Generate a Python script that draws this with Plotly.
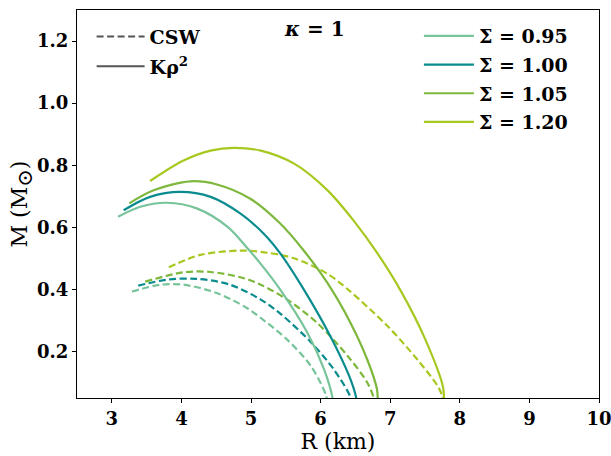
import plotly.graph_objects as go

# ---- data ----
sigma_labels = ["Σ = 0.95", "Σ = 1.00", "Σ = 1.05", "Σ = 1.20"]
colors = ["#78c49a", "#0a8c8e", "#7db83d", "#a6c81f"]

# K rho^2 (solid)
R_k_095 = [3.09, 3.41, 3.79, 4.22, 4.66, 4.94, 5.14, 5.42, 5.81, 6.05, 6.17, 6.18]
M_k_095 = [0.634, 0.666, 0.679, 0.661, 0.602, 0.535, 0.482, 0.399, 0.260, 0.142, 0.052, 0.03]
R_k_100 = [3.17, 3.55, 3.98, 4.42, 4.85, 5.18, 5.42, 5.76, 6.14, 6.41, 6.51, 6.52]
M_k_100 = [0.655, 0.698, 0.714, 0.698, 0.644, 0.580, 0.516, 0.399, 0.249, 0.121, 0.052, 0.03]
R_k_105 = [3.25, 3.60, 4.13, 4.51, 4.99, 5.42, 5.74, 6.10, 6.43, 6.67, 6.81, 6.82]
M_k_105 = [0.677, 0.719, 0.748, 0.738, 0.692, 0.612, 0.530, 0.420, 0.292, 0.174, 0.078, 0.03]
R_k_120 = [3.55, 4.03, 4.42, 4.75, 5.14, 5.62, 6.10, 6.48, 6.82, 7.15, 7.49, 7.76, 7.77]
M_k_120 = [0.749, 0.815, 0.847, 0.856, 0.847, 0.805, 0.719, 0.620, 0.515, 0.396, 0.246, 0.084, 0.03]

# CSW (dashed)
R_c_095 = [3.29, 3.70, 4.03, 4.51, 4.94, 5.14, 5.52, 5.86, 6.08, 6.09]
M_c_095 = [0.393, 0.415, 0.415, 0.388, 0.340, 0.308, 0.238, 0.153, 0.057, 0.03]
R_c_100 = [3.38, 3.79, 4.22, 4.70, 5.14, 5.42, 5.86, 6.19, 6.43, 6.44]
M_c_100 = [0.412, 0.431, 0.434, 0.415, 0.367, 0.322, 0.230, 0.142, 0.052, 0.03]
R_c_105 = [3.48, 4.03, 4.42, 4.90, 5.14, 5.52, 5.95, 6.39, 6.67, 6.76, 6.77]
M_c_105 = [0.425, 0.455, 0.456, 0.436, 0.415, 0.367, 0.292, 0.185, 0.100, 0.052, 0.03]
R_c_120 = [3.82, 4.27, 4.85, 5.14, 5.62, 6.10, 6.39, 6.96, 7.39, 7.68, 7.74, 7.75]
M_c_120 = [0.471, 0.511, 0.525, 0.521, 0.500, 0.450, 0.400, 0.282, 0.174, 0.089, 0.06, 0.03]

x_ticks = [3, 4, 5, 6, 7, 8, 9, 10]
y_ticks = [0.2, 0.4, 0.6, 0.8, 1.0, 1.2]

solid_R = [R_k_095, R_k_100, R_k_105, R_k_120]
solid_M = [M_k_095, M_k_100, M_k_105, M_k_120]
dash_R = [R_c_095, R_c_100, R_c_105, R_c_120]
dash_M = [M_c_095, M_c_100, M_c_105, M_c_120]

FONT = "DejaVu Serif"
DASH = "7px,3.5px"
fig = go.Figure()

for i in range(4):
    fig.add_trace(go.Scatter(x=dash_R[i], y=dash_M[i], mode="lines", showlegend=False,
                             line=dict(color=colors[i], width=2.2, dash=DASH, shape="spline", smoothing=0.9)))
for i in range(4):
    fig.add_trace(go.Scatter(x=solid_R[i], y=solid_M[i], mode="lines", name=sigma_labels[i],
                             legend="legend2", legendgroup="s%d" % i,
                             line=dict(color=colors[i], width=2.2, shape="spline", smoothing=0.9)))

# style legend entries
fig.add_trace(go.Scatter(x=[None], y=[None], mode="lines", name="CSW", legend="legend",
                         legendgroup="csw", line=dict(color="#555555", width=2, dash=DASH)))
fig.add_trace(go.Scatter(x=[None], y=[None], mode="lines", name="Kρ<sup>2</sup>", legend="legend",
                         legendgroup="k", line=dict(color="#555555", width=2)))

fig.add_annotation(x=0.455, y=0.95, xref="paper", yref="paper", showarrow=False,
                   yanchor="middle",
                   text="<i>κ</i> = 1", font=dict(family=FONT, size=20, color="black", weight="bold"))

axis_common = dict(showgrid=False, zeroline=False, showline=True, linecolor="black", linewidth=1,
                   mirror=True, ticks="outside", ticklen=4, tickcolor="black", automargin=False,
                   tickfont=dict(family=FONT, size=18, color="black", weight="bold"))
fig.update_xaxes(range=[2.5, 10], tickvals=x_ticks, ticktext=[str(v) for v in x_ticks],
                 ticklabeloverflow="allow",
                 title=dict(text="R (km)", font=dict(family=FONT, size=22, color="black"), standoff=2),
                 **axis_common)
fig.update_yaxes(range=[0.05, 1.3], tickvals=y_ticks, ticktext=["%.1f" % v for v in y_ticks],
                 title=dict(text="M (M<sub><span style='font-size:21px'>⊙</span></sub>)",
                            font=dict(family=FONT, size=22, color="black"), standoff=1),
                 **axis_common)

legend_font = dict(family=FONT, size=19, color="black", weight="bold")
fig.update_layout(
    width=611, height=456,
    margin=dict(l=77, r=12, t=10, b=58),
    plot_bgcolor="white", paper_bgcolor="white",
    font=dict(family=FONT, color="black"),
    legend=dict(x=0.028, y=0.98, xanchor="left", yanchor="top", bgcolor="rgba(0,0,0,0)",
                font=legend_font, tracegroupgap=2, itemwidth=48),
    legend2=dict(x=0.655, y=0.982, xanchor="left", yanchor="top", bgcolor="rgba(0,0,0,0)",
                 font=legend_font, tracegroupgap=1, itemwidth=50),
)

# remove the default 8px page margin so the figure sits at the window origin
fig.write_html("out.html", config={"displayModeBar": False},
               post_script="document.body.style.margin='0';document.body.style.overflow='hidden';")
